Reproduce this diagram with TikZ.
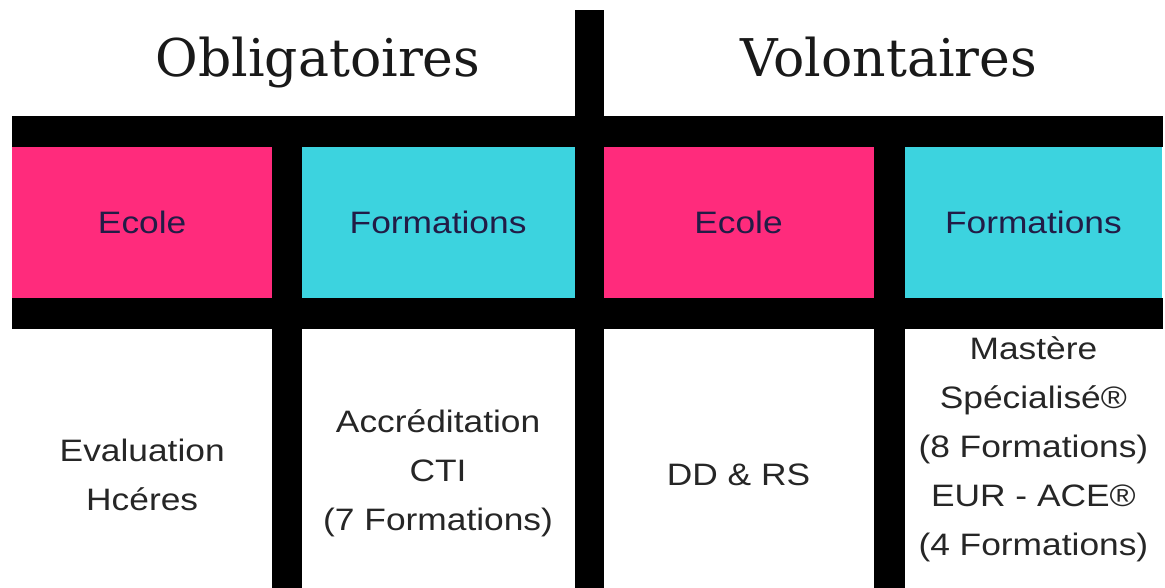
\documentclass[tikz,border=0pt]{standalone}
\usepackage{fontspec}
\setsansfont[FakeStretch=1.14]{Liberation Sans}
\newfontfamily\headfont{DejaVu Serif}
\usetikzlibrary{positioning}
\definecolor{hotpink}{HTML}{FF2B7C}
\definecolor{aqua}{HTML}{3CD3DF}
\definecolor{inkblue}{HTML}{221C46}

\begin{document}
\begin{tikzpicture}[
    x=1pt, y=1pt,
    cell/.style={rectangle, inner sep=0pt, minimum height=151pt, font=\sffamily\fontsize{31}{49}\selectfont, text=inkblue},
    ecole/.style={cell, fill=hotpink},
    forma/.style={cell, fill=aqua},
    entry/.style={align=center, inner sep=0pt, font=\sffamily\fontsize{31}{49}\selectfont, text=black!85},
    heading/.style={anchor=base, font=\headfont\fontsize{52}{60}\selectfont, text=black!90},
    bar/.style={fill=black, draw=black, line width=0.6pt},
]
    \useasboundingbox (0,0) rectangle (1165,587);

    \node[ecole, minimum width=260pt, anchor=south west] (ob-ecole) at (12,289) {Ecole};
    \node[forma, minimum width=273pt, right=29pt of ob-ecole] (ob-form) {Formations};
    \node[ecole, minimum width=271pt, right=28pt of ob-form] (vo-ecole) {Ecole};
    \node[forma, minimum width=258pt, right=30pt of vo-ecole] (vo-form) {Formations};

    % black frame
    \fill[bar] (ob-ecole.north west) rectangle ([yshift=30pt]vo-form.north east);
    \fill[bar] ([yshift=-30pt]ob-ecole.south west) rectangle (vo-form.south east);
    \fill[bar] (ob-ecole.east |- 0,0) rectangle (ob-form.west |- 0,470);
    \fill[bar] (ob-form.east |- 0,0) rectangle (vo-ecole.west |- 0,577);
    \fill[bar] (vo-ecole.east |- 0,0) rectangle (vo-form.west |- 0,470);

    \node[heading] (oblig) at (318,510) {Obligatoires};
    \node[heading] (volont) at (889,510) {Volontaires};

    \node[entry] (ob-ecole-txt) at (ob-ecole |- 0,112) {Evaluation\\Hcéres};
    \node[entry] (ob-form-txt) at (ob-form |- 0,114) {Accréditation\\CTI\\(7 Formations)};
    \node[entry] (vo-ecole-txt) at (vo-ecole |- 0,112) {DD \& RS};
    \node[entry] (vo-form-txt) at (vo-form |- 0,138) {Mastère\\Spécialisé®\\(8 Formations)\\EUR - ACE®\\(4 Formations)};
\end{tikzpicture}
\end{document}
